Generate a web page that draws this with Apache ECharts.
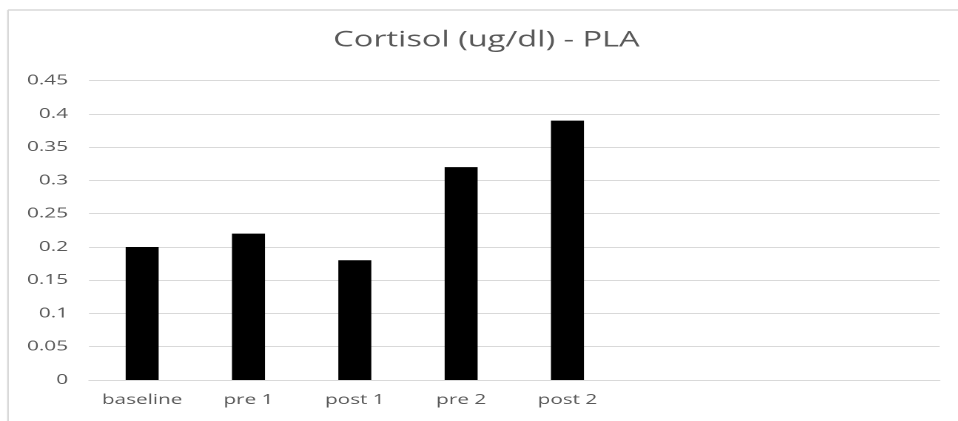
<!DOCTYPE html>
<html>
<head>
<meta charset="utf-8">
<script src="https://cdn.jsdelivr.net/npm/echarts@6/dist/echarts.min.js"></script>
<style>
  html, body { margin: 0; padding: 0; background: #fff; overflow: hidden; }
  /* the chart is laid out narrow and widened horizontally to give the wide lettering */
  #wrap { width: 958px; height: 421px; overflow: hidden; }
  #chart { width: 647px; height: 421px; transform: scaleX(1.48); transform-origin: 0 0; }
</style>
</head>
<body>
<div id="wrap"><div id="chart"></div></div>
<script>
// Sampling time points (the axis keeps three empty slots on the right)
const categories = ['baseline', 'pre 1', 'post 1', 'pre 2', 'post 2', '', '', ''];
// Cortisol concentration, ug/dl
const cortisol = [0.20, 0.22, 0.18, 0.32, 0.39, null, null, null];
const yTicks = { min: 0, max: 0.45, step: 0.05 };

const SX = 1.48;               // horizontal widening applied to the container
const px = v => v / SX;        // convert screen x-distances to chart units

const textColor = '#595959';
const gridColor = '#d9d9d9';
const font = '"Open Sans", "Noto Sans", sans-serif';

const chart = echarts.init(document.getElementById('chart'), null, { renderer: 'canvas', devicePixelRatio: 2 });
chart.setOption({
  animation: false,
  backgroundColor: '#fff',
  title: {
    text: 'Cortisol (ug/dl) - PLA',
    left: px(479),
    top: 24,
    textAlign: 'center',
    textStyle: { fontFamily: font, fontSize: 22, fontWeight: 'normal', color: textColor }
  },
  graphic: [
    { type: 'line', shape: { x1: px(8), y1: 10, x2: px(958), y2: 10 }, style: { stroke: gridColor, lineWidth: 1.5 } },
    { type: 'line', shape: { x1: px(8), y1: 10, x2: px(8), y2: 421 }, style: { stroke: gridColor, lineWidth: 1.2 } }
  ],
  grid: { left: px(89), right: px(18), top: 80.7, bottom: 41, containLabel: false },
  xAxis: {
    type: 'category',
    data: categories,
    axisLine: { show: true, lineStyle: { color: gridColor, width: 1 } },
    axisTick: { show: false },
    axisLabel: { color: textColor, fontFamily: font, fontSize: 14, margin: 13 },
    splitLine: { show: false }
  },
  yAxis: {
    type: 'value',
    min: yTicks.min,
    max: yTicks.max,
    interval: yTicks.step,
    axisLine: { show: false },
    axisTick: { show: false },
    axisLabel: {
      color: textColor, fontFamily: font, fontSize: 14, margin: px(21),
      formatter: v => String(parseFloat(v.toFixed(2)))
    },
    splitLine: { lineStyle: { color: gridColor, width: 1 } }
  },
  series: [{
    type: 'bar',
    data: cortisol,
    barWidth: px(33),
    itemStyle: { color: '#000' }
  }]
});
</script>
</body>
</html>
